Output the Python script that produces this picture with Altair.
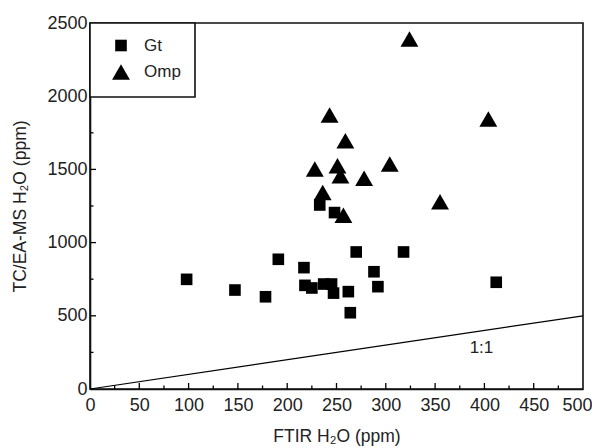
import altair as alt
import pandas as pd

# Gt (garnet) points
gt_x = [98, 147, 178, 191, 217, 218, 225, 237, 245, 247, 262, 264, 270, 288, 292, 318, 412, 233, 248]
gt_y = [749, 676, 630, 886, 829, 708, 690, 717, 717, 655, 665, 521, 936, 801, 699, 936, 729, 1257, 1205]
# Omp (omphacite) points
omp_x = [228, 236, 243, 251, 254, 259, 257, 278, 304, 324, 355, 404]
omp_y = [1503, 1343, 1872, 1525, 1457, 1696, 1187, 1439, 1537, 2391, 1279, 1844]

minerals = ["Gt", "Omp"]
one_x = [0, 500]
one_y = [0, 500]
x_major = [50, 100, 150, 200, 250, 300, 350, 400, 450]
x_minor = [25, 75, 125, 175, 225, 275, 325, 375, 425, 475]
y_major = [500, 1000, 1500, 2000]
y_minor = [250, 750, 1250, 1750, 2250]
label_txt = ["1:1"]
label_x = [397]
label_y = [280]

W, H = 493, 366
FONT = "Liberation Sans"

pts = pd.DataFrame({
    "x": gt_x + omp_x,
    "y": gt_y + omp_y,
    "mineral": ["Gt"] * len(gt_x) + ["Omp"] * len(omp_x),
})

xs = alt.Scale(domain=[0, 500], nice=False, zero=False)
ys = alt.Scale(domain=[0, 2500], nice=False, zero=False)

xax = alt.Axis(values=[0, 50, 100, 150, 200, 250, 300, 350, 400, 450, 500], ticks=False,
               grid=False, labelPadding=7, titlePadding=13, labelFlush=False, format="d",
               labelAlign={"condition": {"test": "datum.value == 500", "value": "right"}, "value": "center"},
               labelOffset={"condition": {"test": "datum.value == 500", "value": 9}, "value": 0})
yax = alt.Axis(values=[0, 500, 1000, 1500, 2000, 2500], ticks=False, grid=False,
               labelPadding=3, titlePadding=17, labelFlush=False, format="d")

points = alt.Chart(pts).mark_point(filled=True, opacity=1, color="black").encode(
    x=alt.X("x:Q", scale=xs, axis=xax, title="FTIR H₂O (ppm)"),
    y=alt.Y("y:Q", scale=ys, axis=yax, title="TC/EA-MS H₂O (ppm)"),
    shape=alt.Shape("mineral:N", scale=alt.Scale(domain=minerals, range=["square", "triangle-up"]),
                    legend=alt.Legend(title=None)),
    size=alt.Size("mineral:N", scale=alt.Scale(domain=minerals, range=[135, 320]),
                  legend=alt.Legend(title=None)),
)

line = alt.Chart(pd.DataFrame({"x": one_x, "y": one_y})).mark_line(
    color="black", strokeWidth=1.2).encode(
    x=alt.X("x:Q", scale=xs), y=alt.Y("y:Q", scale=ys))

txt = alt.Chart(pd.DataFrame({"t": label_txt, "x": label_x, "y": label_y})).mark_text(
    font=FONT, fontSize=17, color="#222").encode(
    x=alt.X("x:Q", scale=xs), y=alt.Y("y:Q", scale=ys), text="t:N")

def xticks(vals, ln):
    return alt.Chart(pd.DataFrame({"v": vals})).mark_rule(color="black", strokeWidth=1.3).encode(
        x=alt.X("v:Q", scale=xs), y=alt.value(H), y2=alt.value(H - ln))

def yticks(vals, ln):
    return alt.Chart(pd.DataFrame({"v": vals})).mark_rule(color="black", strokeWidth=1.3).encode(
        y=alt.Y("v:Q", scale=ys), x=alt.value(0), x2=alt.value(ln))

chart = alt.layer(
    line, txt,
    xticks(x_major, 6), xticks(x_minor, 3.5),
    yticks(y_major, 6), yticks(y_minor, 3.5),
    points,
).properties(
    width=W, height=H,
    autosize=alt.AutoSizeParams(type="none"),
    padding={"left": 82, "top": 15, "right": 9, "bottom": 59},
).configure_view(
    stroke="#111", strokeWidth=1.6
).configure_axis(
    domainColor="#111", domainWidth=1.6,
    labelFont=FONT, labelFontSize=18, labelColor="#222",
    titleFont=FONT, titleFontSize=17.5, titleFontWeight="normal", titleColor="#222",
).configure_legend(
    orient="none", legendX=0, legendY=0,
    strokeColor="#111", strokeWidth=1.6, fillColor="white",
    padding=14, symbolOffset=7, labelOffset=13, rowPadding=6,
    labelFont=FONT, labelFontSize=17, labelColor="#222",
    symbolType="circle",
)

chart.save("out.html", embed_options={"renderer": "svg", "actions": False})
